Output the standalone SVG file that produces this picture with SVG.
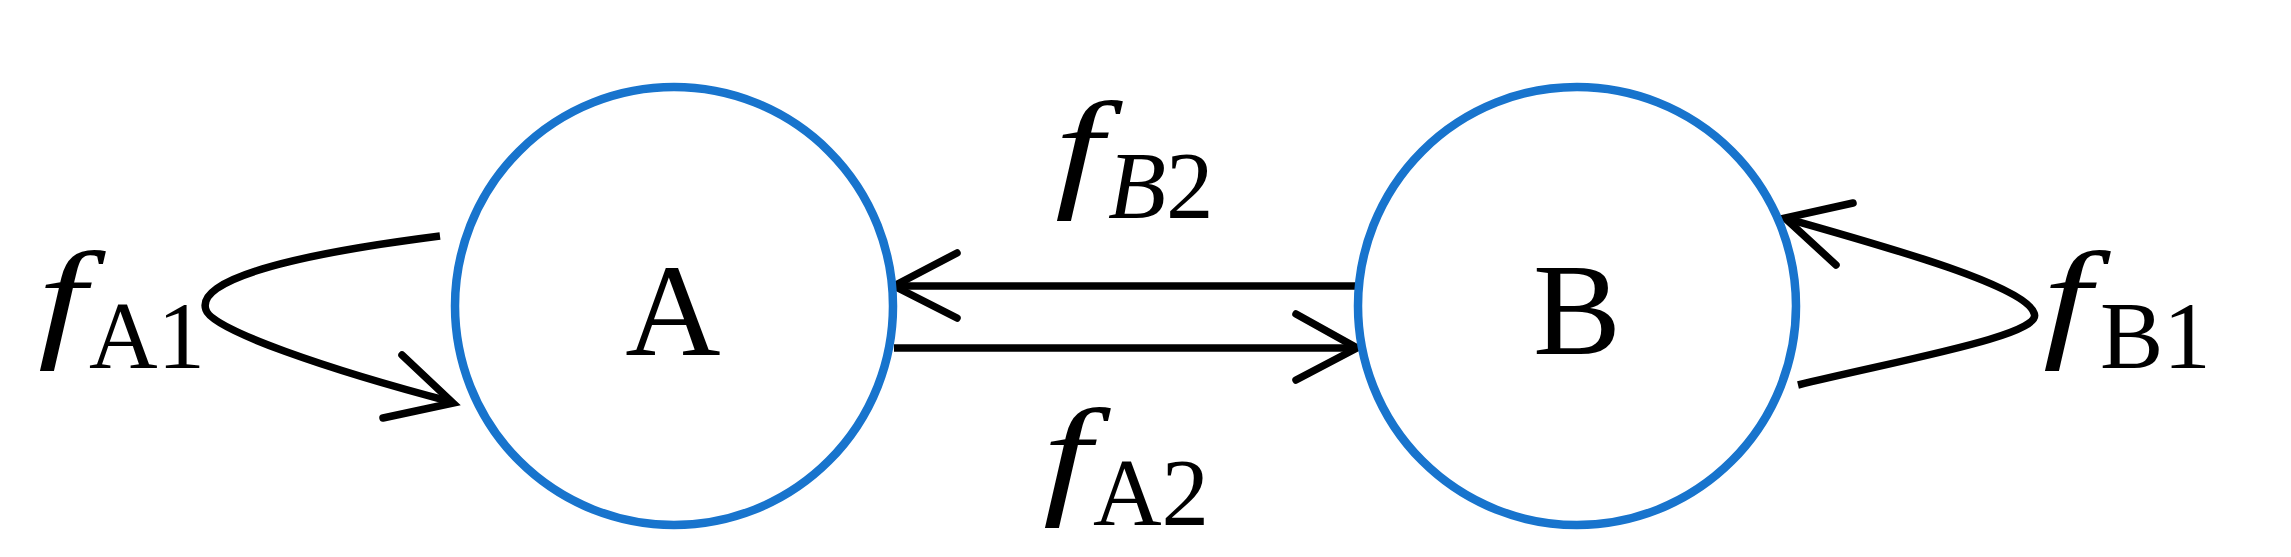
<svg xmlns="http://www.w3.org/2000/svg" width="2291" height="557" viewBox="0 0 2291 557">
  <style>
    .node { fill: #ffffff; stroke: #1874CD; stroke-width: 8.5; }
    .nlabel { font-family: "Liberation Serif", "DejaVu Serif", serif; font-size: 132px; fill: #000; text-anchor: middle; }
    .edge { fill: none; stroke: #000; stroke-width: 7.5; stroke-linecap: butt; }
    .head { fill: none; stroke: #000; stroke-width: 7.5; stroke-linecap: round; stroke-linejoin: miter; stroke-miterlimit: 10; }
    .f { font-family: "Liberation Serif", "DejaVu Serif", serif; font-size: 131px; font-style: italic; fill: #000; }
    .sub { font-family: "Liberation Serif", "DejaVu Serif", serif; font-size: 95px; fill: #000; }
  </style>
  <rect width="2291" height="557" fill="#ffffff"/>
  <g id="connectors">
    <g id="edge-A1">
      <path class="edge" d="M440,236 C290,255 195,280 206,310 C212,330 330,370 452,402"/>
      <path class="head" d="M402,355 L453,403 L383,418"/>
      <text class="f" x="38" y="343" textLength="48" lengthAdjust="spacingAndGlyphs">f</text>
      <text class="sub" x="89" y="368">A1</text>
    </g>
    <g id="edge-A2">
      <path class="edge" d="M894,348 L1352,348"/>
      <path class="head" d="M1296,314 L1357,348 L1296,380"/>
      <text class="f" x="1043" y="500" textLength="48" lengthAdjust="spacingAndGlyphs">f</text>
      <text class="sub" x="1093" y="525">A2</text>
    </g>
    <g id="edge-B2">
      <path class="edge" d="M1358,286 L900,286"/>
      <path class="head" d="M957,253 L894,286 L957,318"/>
      <text class="f" x="1055" y="193" textLength="48" lengthAdjust="spacingAndGlyphs">f</text>
      <text class="sub" x="1108" y="218"><tspan font-style="italic">B</tspan>2</text>
    </g>
    <g id="edge-B1">
      <path class="edge" d="M1798,385 C1900,360 2045,335 2034,313 C2025,285 1880,245 1785,218"/>
      <path class="head" d="M1853,203 L1785,218 L1836,265"/>
      <text class="f" x="2043" y="343" textLength="48" lengthAdjust="spacingAndGlyphs">f</text>
      <text class="sub" x="2100" y="368">B1</text>
    </g>
  </g>
  <g id="node-A">
    <circle class="node" cx="674" cy="306" r="219"/>
    <text class="nlabel" x="673" y="355">A</text>
  </g>
  <g id="node-B">
    <circle class="node" cx="1577" cy="306" r="219"/>
    <text class="nlabel" x="1577" y="354">B</text>
  </g>
</svg>
